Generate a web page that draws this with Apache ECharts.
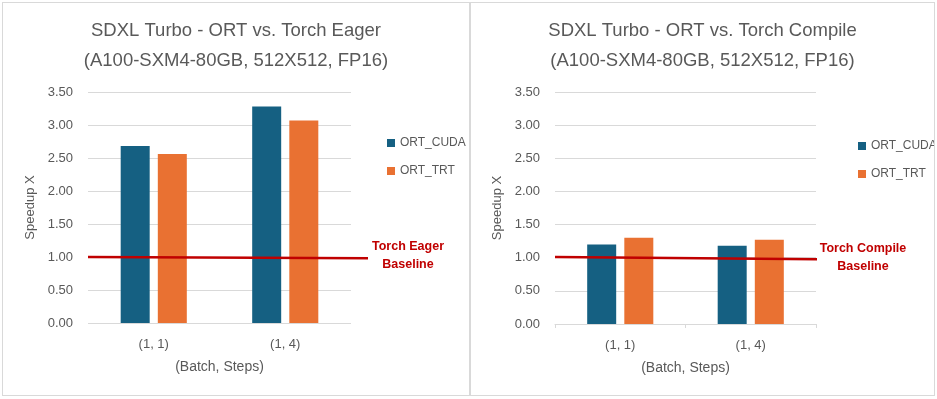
<!DOCTYPE html>
<html>
<head>
<meta charset="utf-8">
<script src="https://cdn.jsdelivr.net/npm/echarts@6/dist/echarts.min.js"></script>
<style>
  html, body { margin: 0; padding: 0; background: #fff; }
  .panel { position: absolute; top: 2px; height: 394px; box-sizing: border-box; border: 1px solid #d9d9d9; }
  #left { left: 2px; width: 468px; }
  #right { left: 470px; width: 465px; }
</style>
</head>
<body>
<div id="left" class="panel"></div>
<div id="right" class="panel"></div>
<script>
// categories (Batch, Steps)
var categories = ['(1, 1)', '(1, 4)'];
var seriesNames = ['ORT_CUDA', 'ORT_TRT'];

// speedup vs Torch Eager
var eagerCuda = [2.68, 3.28];
var eagerTrt = [2.56, 3.07];
// speedup vs Torch Compile
var compileCuda = [1.20, 1.18];
var compileTrt = [1.30, 1.27];

// baseline line: start and end value (it drifts a little)
var eagerBaseline = [[0, 1.00], [1, 0.98]];
var compileBaseline = [[0, 1.01], [1, 0.975]];

var textColor = '#595959';
var gridColor = '#d9d9d9';
var colors = ['#156082', '#e97132'];
var fontFam = '"Liberation Sans", Arial, sans-serif';

function buildOption(cfg) {
    var g = cfg.grid;
    return {
        animation: false,
        color: colors,
        textStyle: { fontFamily: fontFam },
        title: {
            text: cfg.title,
            left: 'center',
            top: 8,
            textStyle: { color: textColor, fontSize: 18.5, fontWeight: 'normal', lineHeight: 30, fontFamily: fontFam }
        },
        legend: {
            data: seriesNames,
            orient: 'vertical',
            left: cfg.legendLeft,
            top: cfg.legendTop,
            icon: 'rect',
            itemWidth: 8,
            itemHeight: 8,
            itemGap: 16,
            textStyle: { color: textColor, fontSize: 12, fontFamily: fontFam }
        },
        grid: [
            g,
            // baseline runs a bit past the plot on the right
            { left: g.left, right: cfg.lineRight, top: g.top, bottom: g.bottom }
        ],
        xAxis: [{
            type: 'category',
            gridIndex: 0,
            data: categories,
            axisLine: { show: cfg.showTicks, lineStyle: { color: gridColor } },
            axisTick: { show: cfg.showTicks, length: 4, lineStyle: { color: gridColor } },
            axisLabel: { color: textColor, fontSize: 13, margin: 15 },
            name: '(Batch, Steps)',
            nameLocation: 'middle',
            nameGap: 37,
            nameTextStyle: { color: textColor, fontSize: 14 }
        }, {
            type: 'value',
            gridIndex: 1,
            min: 0,
            max: 1,
            show: false
        }],
        yAxis: [{
            type: 'value',
            gridIndex: 0,
            min: 0,
            max: 3.5,
            interval: 0.5,
            axisLine: { show: false },
            axisTick: { show: false },
            splitLine: { lineStyle: { color: gridColor, width: 1 } },
            axisLabel: {
                color: textColor, fontSize: 13, margin: 15,
                formatter: function (v) { return v.toFixed(2); }
            },
            name: 'Speedup X',
            nameLocation: 'middle',
            nameGap: 41,
            nameTextStyle: { color: textColor, fontSize: 13 }
        }, {
            type: 'value',
            gridIndex: 1,
            min: 0,
            max: 3.5,
            show: false
        }],
        series: [{
            name: seriesNames[0],
            type: 'bar',
            barWidth: 29,
            barGap: '28%',
            data: cfg.cuda
        }, {
            name: seriesNames[1],
            type: 'bar',
            barWidth: 29,
            data: cfg.trt
        }, {
            name: 'baseline',
            type: 'line',
            xAxisIndex: 1,
            yAxisIndex: 1,
            data: cfg.baseline,
            symbol: 'none',
            z: 5,
            lineStyle: { color: '#c00000', width: 2.5 },
            endLabel: {
                show: true,
                formatter: cfg.baseLabel,
                align: 'center',
                offset: cfg.labelOffset,
                color: '#c00000',
                fontWeight: 'bold',
                fontSize: 12.5,
                lineHeight: 17.5,
                fontFamily: fontFam
            }
        }]
    };
}

var chartLeft = echarts.init(document.getElementById('left'));
chartLeft.setOption(buildOption({
    title: 'SDXL Turbo - ORT vs. Torch Eager\n(A100-SXM4-80GB, 512X512, FP16)',
    grid: { left: 85, right: 118, top: 89, bottom: 72 },
    lineRight: 101,
    legendLeft: 379,
    legendTop: 129,
    showTicks: false,
    cuda: eagerCuda,
    trt: eagerTrt,
    baseline: eagerBaseline,
    baseLabel: 'Torch Eager\nBaseline',
    labelOffset: [32, -3]
}));

var chartRight = echarts.init(document.getElementById('right'));
chartRight.setOption(buildOption({
    title: 'SDXL Turbo - ORT vs. Torch Compile\n(A100-SXM4-80GB, 512X512, FP16)',
    grid: { left: 84, right: 118, top: 89, bottom: 71 },
    lineRight: 117,
    legendLeft: 382,
    legendTop: 132,
    showTicks: true,
    cuda: compileCuda,
    trt: compileTrt,
    baseline: compileBaseline,
    baseLabel: 'Torch Compile\nBaseline',
    labelOffset: [38, -2]
}));
</script>
</body>
</html>
